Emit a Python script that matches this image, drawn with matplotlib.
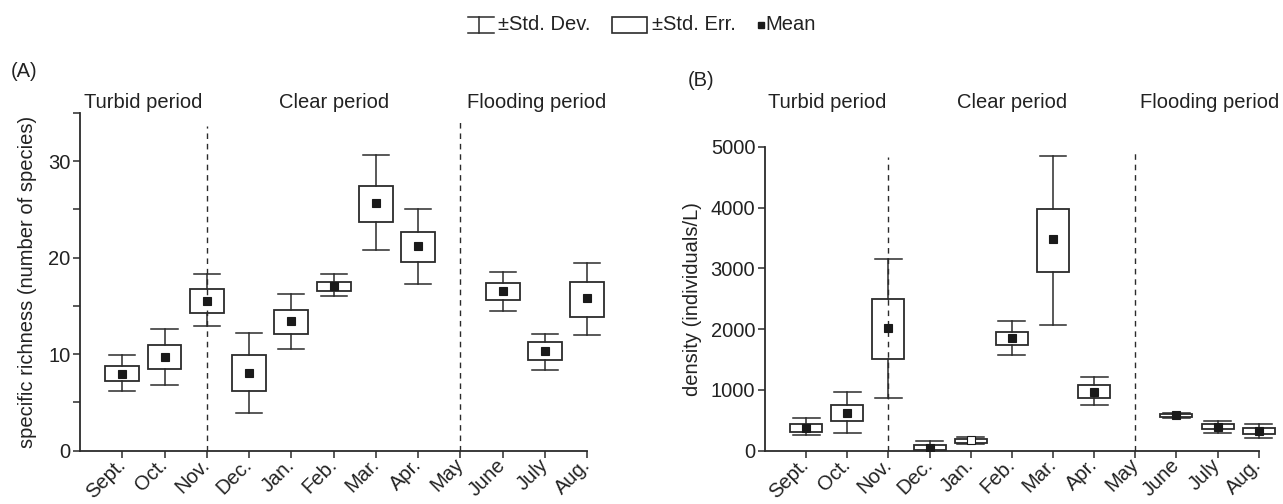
import matplotlib
matplotlib.use("Agg")
import matplotlib.pyplot as plt
from matplotlib.patches import Rectangle
from matplotlib.lines import Line2D
from matplotlib.ticker import MultipleLocator
import matplotlib.transforms as mtransforms
import numpy as np

plt.rcParams['font.family'] = ['Liberation Sans', 'DejaVu Sans']

months = ["Sept.", "Oct.", "Nov.", "Dec.", "Jan.", "Feb.", "Mar.", "Apr.",
          "May", "June", "July", "Aug."]
nan = np.nan

# Panel A: specific richness (number of species)
rich_mean  = [8.0, 9.7, 15.5, 8.1, 13.4, 17.1, 25.7, 21.2, nan, 16.6, 10.3, 15.8]
rich_se_hi = [8.8, 11.0, 16.8, 9.9, 14.6, 17.5, 27.4, 22.7, nan, 17.4, 11.3, 17.5]
rich_se_lo = [7.2, 8.5, 14.3, 6.2, 12.1, 16.6, 23.7, 19.6, nan, 15.6, 9.4, 13.9]
rich_sd_hi = [9.9, 12.6, 18.3, 12.2, 16.2, 18.3, 30.6, 25.0, nan, 18.5, 12.1, 19.5]
rich_sd_lo = [6.2, 6.8, 12.9, 3.9, 10.5, 16.0, 20.8, 17.3, nan, 14.5, 8.4, 12.0]

# Panel B: density (individuals/L)
dens_mean  = [378, 625, 2018, 49, 170, 1853, 3481, 970, nan, 581, 395, 323]
dens_se_hi = [439, 757, 2500, 93, 197, 1952, 3969, 1075, nan, 603, 439, 367]
dens_se_lo = [307, 493, 1508, 11, 132, 1738, 2944, 861, nan, 554, 351, 274]
dens_sd_hi = [532, 959, 3147, 164, 225, 2127, 4846, 1212, nan, 614, 488, 439]
dens_sd_lo = [258, 285, 872, -65, 110, 1573, 2072, 746, nan, 543, 296, 208]

periods = ["Turbid period", "Clear period", "Flooding period"]

W, H = 1283, 504
fig = plt.figure(figsize=(W / 100, H / 100), dpi=100)


def fx(px):
    return px / W


def fy(py):
    return 1 - py / H


LC = "#2b2b2b"
XMAX = 11.6


def setup(ax, ylim):
    ax.set_xlim(-1, XMAX)
    ax.set_ylim(*ylim)
    for s in ("top", "right"):
        ax.spines[s].set_visible(False)
    for s in ("left", "bottom"):
        ax.spines[s].set_linewidth(1.3)
        ax.spines[s].set_color(LC)
    ax.spines["bottom"].set_bounds(-1, 11)
    ax.set_xticks(np.arange(len(months)))
    ax.set_xticklabels(months, rotation=45, ha="right", va="center",
                       rotation_mode="anchor", fontsize=14.5, color="#222")
    ax.tick_params(axis="both", which="both", direction="out", length=5,
                   width=1.1, color=LC, labelsize=14.5, labelcolor="#222")
    ax.tick_params(axis="x", pad=3)
    ax.tick_params(axis="y", pad=2)


def draw(ax, mean, se_lo, se_hi, sd_lo, sd_hi, bw, cw, faces):
    for i in range(len(months)):
        if np.isnan(mean[i]):
            continue
        ax.plot([i, i], [sd_lo[i], se_lo[i]], color=LC, lw=1.1, zorder=3)
        ax.plot([i, i], [se_hi[i], sd_hi[i]], color=LC, lw=1.1, zorder=3)
        ax.plot([i - cw / 2, i + cw / 2], [sd_lo[i], sd_lo[i]], color=LC, lw=1.1, zorder=3)
        ax.plot([i - cw / 2, i + cw / 2], [sd_hi[i], sd_hi[i]], color=LC, lw=1.1, zorder=3)
        ax.add_patch(Rectangle((i - bw / 2, se_lo[i]), bw, se_hi[i] - se_lo[i],
                               fill=False, ec=LC, lw=1.3, zorder=3))
        ax.plot([i], [mean[i]], marker="s", ms=5.6, mfc=faces[i], mec="#1a1a1a",
                mew=0.8, ls="none", zorder=4)


# ---------------- Panel A ----------------
spA = (587.3 - 80) / 12.0
axA = fig.add_axes([fx(80), fy(450.7), fx(spA * (XMAX + 1)), (450.7 - 113) / H])
setup(axA, (0, 35))
axA.set_yticks([0, 10, 20, 30])
axA.yaxis.set_minor_locator(MultipleLocator(5))
axA.plot([2, 2], [0, 33.7], ls=(0, (4, 3.5)), lw=1.0, color=LC, zorder=1)
axA.plot([8, 8], [0, 34.2], ls=(0, (4, 3.5)), lw=1.0, color=LC, zorder=1)
draw(axA, rich_mean, rich_se_lo, rich_se_hi, rich_sd_lo, rich_sd_hi,
     0.8, 0.62, ["#1a1a1a"] * 12)
axA.set_ylabel("specific richness (number of species)", fontsize=14.5,
               color="#222", labelpad=8)

# ---------------- Panel B ----------------
spB = (1258.7 - 765) / 12.0
axB = fig.add_axes([fx(765), fy(450.7), fx(spB * (XMAX + 1)), (450.7 - 146.7) / H])
setup(axB, (0, 5000))
axB.set_yticks([0, 1000, 2000, 3000, 4000, 5000])
axB.plot([2, 2], [0, 4825], ls=(0, (4, 3.5)), lw=1.0, color=LC, zorder=1)
axB.plot([8, 8], [0, 4890], ls=(0, (4, 3.5)), lw=1.0, color=LC, zorder=1)
facesB = ["#1a1a1a"] * 12
facesB[4] = "white"
draw(axB, dens_mean, dens_se_lo, dens_se_hi, dens_sd_lo, dens_sd_hi,
     0.78, 0.65, facesB)
axB.set_ylabel("density (individuals/L)", fontsize=14.5, color="#222", labelpad=6)

# period labels
for ax in (axA, axB):
    tr = mtransforms.blended_transform_factory(ax.transData, fig.transFigure)
    for xpos, txt in zip([0.5, 5.0, 9.8], periods):
        ax.text(xpos, fy(103), txt, transform=tr, ha="center", va="center",
                fontsize=14.5, color="#222", clip_on=False)

# panel letters
fig.text(fx(11), fy(72), "(A)", fontsize=14.5, ha="left", va="center", color="#222")
fig.text(fx(688), fy(80), "(B)", fontsize=14.5, ha="left", va="center", color="#222")

# legend (drawn in figure pixels)
def fline(xs, ys, **kw):
    fig.add_artist(Line2D([fx(v) for v in xs], [fy(v) for v in ys],
                          transform=fig.transFigure, **kw))

fline([479, 479], [16.5, 32.5], color=LC, lw=1.1)
fline([468, 494], [16.5, 16.5], color=LC, lw=1.1)
fline([468, 494], [32.5, 32.5], color=LC, lw=1.1)
fig.text(fx(498), fy(24.5), "\u00b1Std. Dev.", fontsize=14.5, ha="left",
         va="center", color="#222")
fig.add_artist(Rectangle((fx(612), fy(32.5)), fx(35), 15 / H, fill=False,
                         ec=LC, lw=1.2, transform=fig.transFigure))
fig.text(fx(652), fy(24.5), "\u00b1Std. Err.", fontsize=14.5, ha="left",
         va="center", color="#222")
fig.add_artist(Line2D([fx(761)], [fy(25)], marker="s", ms=4.5, color="#1a1a1a",
                      ls="none", transform=fig.transFigure))
fig.text(fx(765), fy(24.5), "Mean", fontsize=14.5, ha="left", va="center",
         color="#222")

fig.savefig("out.png", dpi=100)
